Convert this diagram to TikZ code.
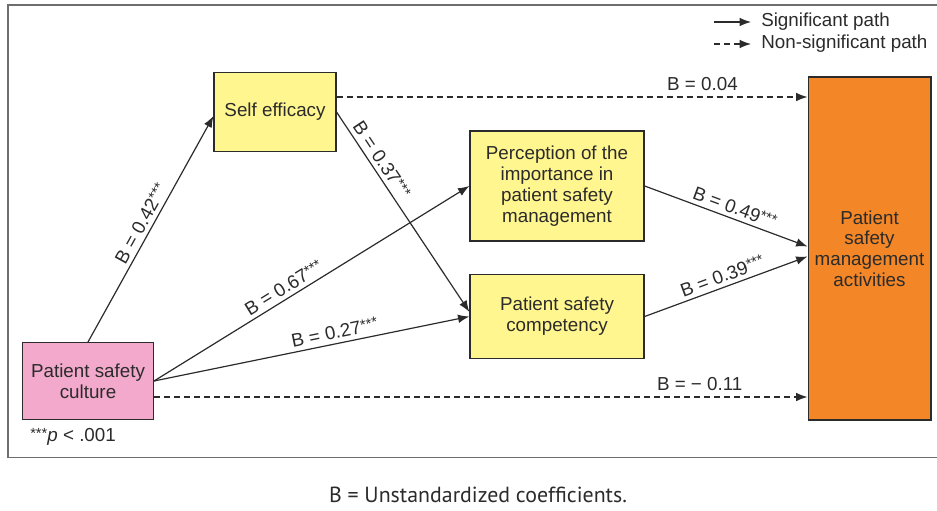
\documentclass[tikz,border=0pt]{standalone}
\usepackage{fontspec}
\setmainfont{Liberation Sans}
\newfontfamily\captionfont{PT Sans}
\usetikzlibrary{arrows.meta,positioning}
\definecolor{culturepink}{HTML}{F2A9CB}
\definecolor{mediatoryellow}{HTML}{FFF68F}
\definecolor{outcomeorange}{HTML}{F38626}
\definecolor{inkgrey}{HTML}{2B2B2B}
\definecolor{framegrey}{HTML}{6E6E6E}
\newcommand{\boxfont}{\fontsize{14.1pt}{15.6pt}\selectfont}
\newcommand{\sig}{\raisebox{0.35ex}{\fontsize{11pt}{11pt}\selectfont***}}

\begin{document}
\begin{tikzpicture}[x=0.75pt,y=-0.75pt,font=\boxfont,text=inkgrey]
\tikzstyle{var}=[rectangle, draw=inkgrey, line width=1pt, align=center, inner sep=2pt]
\tikzstyle{connect}=[-{Latex[length=8.5pt,width=6.5pt]}, line width=0.9pt, draw=inkgrey]
\tikzstyle{nonsig}=[connect, dash pattern=on 4.5pt off 3pt]
\tikzstyle{coef}=[sloped, above, inner sep=3pt]

\useasboundingbox (0,0) rectangle (937,510);
\draw[framegrey, line width=1pt] (937,5) -- (8,5) -- (8,457.5) -- (937,457.5);

	% variables
	\node[var, fill=culturepink, minimum width=98pt, minimum height=57.5pt] (culture) at (88,381) {Patient safety\\culture};
	\node[var, fill=mediatoryellow, minimum width=91.3pt, minimum height=59.5pt] (efficacy) at (275,112) {Self efficacy};
	\node[var, fill=mediatoryellow, minimum width=130.5pt, minimum height=82.7pt] (perception) at (557,186) {Perception of the\\importance in\\patient safety\\management};
	\node[var, fill=mediatoryellow, minimum width=130.5pt, minimum height=63.3pt] (competency) at (557,316.5) {Patient safety\\competency};
	\node[var, fill=outcomeorange, minimum width=92pt, minimum height=257.3pt] (activities) at (869.5,248.5) {Patient\\safety\\management\\activities};

	% legend
	\coordinate (solidA) at (714,22);
	\coordinate (solidB) at (751,22);
	\coordinate (dashA) at (714,44);
	\coordinate (dashB) at (751,44);
	\draw[connect] (solidA) -- (solidB);
	\draw[nonsig] (dashA) -- (dashB);
	\node[anchor=west, inner sep=0pt] (siglabel) at (761,22) {Significant path};
	\node[anchor=west, inner sep=0pt] (nonsiglabel) at (761,44) {Non-significant path};

	% paths
	\draw[connect] (culture.north) -- node[coef, pos=0.5]{B = 0.42\sig} ([yshift=-3pt]efficacy.west);
	\draw[connect] (culture.east) -- node[coef, pos=0.43]{B = 0.67\sig} (perception.west);
	\draw[connect] (culture.east) -- node[coef, pos=0.58]{B = 0.27\sig} (competency.west);
	\draw[connect] (efficacy.east) -- node[coef, pos=0.27]{B = 0.37\sig} ([yshift=3.5pt]competency.west);
	\draw[connect] (perception.east) -- node[coef, pos=0.53]{B = 0.49\sig} ([yshift=1.5pt]activities.west);
	\draw[connect] (competency.east) -- node[coef, pos=0.5]{B = 0.39\sig} ([yshift=-6pt]activities.west);
	\draw[nonsig] ([yshift=11.25pt]efficacy.east) -- node[above, pos=0.777, inner sep=4pt]{B = 0.04} ([yshift=11.25pt]efficacy.east -| activities.west);
	\draw[nonsig] ([yshift=-12pt]culture.east) -- node[above, pos=0.835, inner sep=4pt]{B = − 0.11} ([yshift=-12pt]culture.east -| activities.west);

	% notes
	\node[anchor=west, inner sep=0pt] (pnote) at (30,437) {\sig\textit{p} < .001};
	\node[inner sep=0pt] (caption) at (478,495) {\captionfont\fontsize{16.4pt}{19pt}\selectfont B = Unstandardized coefficients.};

\end{tikzpicture}
\end{document}
